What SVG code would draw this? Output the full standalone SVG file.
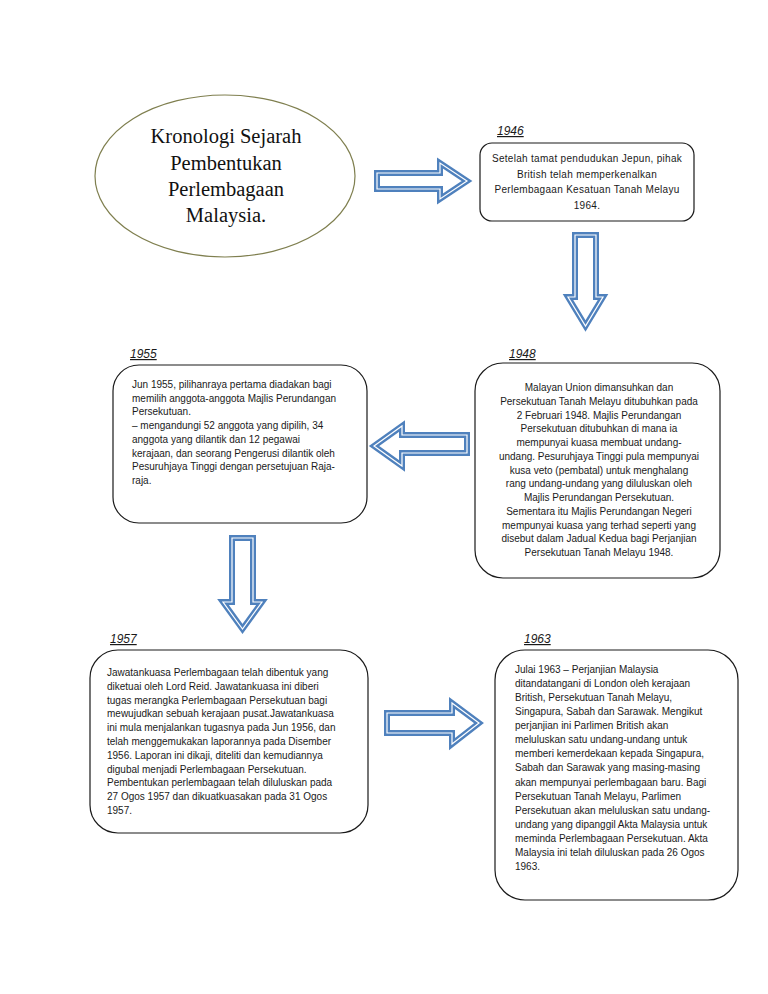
<svg xmlns="http://www.w3.org/2000/svg" width="768" height="994" viewBox="0 0 768 994">
<style>
.box{fill:#fff;stroke:#1a1a1a;stroke-width:1.2}
.t{font-family:"Liberation Sans",Arial,sans-serif;font-size:10px;fill:#1a1a1a}
.c{text-anchor:middle}
.yr{font-family:"Liberation Sans",Arial,sans-serif;font-size:12px;font-style:italic;fill:#1a1a1a;text-decoration:underline}
.title{font-family:"Liberation Serif","Times New Roman",serif;font-size:20.5px;fill:#111;text-anchor:middle}
.aro{fill:#fff;stroke:#4F81BD;stroke-width:6;stroke-linejoin:miter}
.ari{fill:none;stroke:#fff;stroke-width:1.2;stroke-linejoin:miter}
</style>
<rect width="768" height="994" fill="#fff"/>
<g id="title">
<ellipse cx="225" cy="176" rx="130" ry="81" fill="#fff" stroke="#7F7F4F" stroke-width="1.2"/>
<text class="title"><tspan x="226" y="143">Kronologi Sejarah</tspan><tspan x="226" y="170">Pembentukan</tspan><tspan x="226" y="196">Perlembagaan</tspan><tspan x="226" y="222">Malaysia.</tspan></text>
</g>
<g id="n1946">
<text class="yr" x="497" y="135">1946</text>
<rect class="box" x="480" y="143" width="214" height="78" rx="12"/>
<text class="t c" letter-spacing="0.3"><tspan x="587" y="162">Setelah tamat pendudukan Jepun, pihak</tspan><tspan x="587" y="177.5">British telah memperkenalkan</tspan><tspan x="587" y="193">Perlembagaan Kesatuan Tanah Melayu</tspan><tspan x="587" y="208.5">1964.</tspan></text>
</g>
<g id="n1948">
<text class="yr" x="509" y="358">1948</text>
<rect class="box" x="475" y="363" width="245" height="215" rx="28"/>
<text class="t c"><tspan x="599" y="391">Malayan Union dimansuhkan dan</tspan><tspan x="599" y="404.75">Persekutuan Tanah Melayu ditubuhkan pada</tspan><tspan x="599" y="418.5">2 Februari 1948. Majlis Perundangan</tspan><tspan x="599" y="432.25">Persekutuan ditubuhkan di mana ia</tspan><tspan x="599" y="446">mempunyai kuasa membuat undang-</tspan><tspan x="599" y="459.75">undang. Pesuruhjaya Tinggi pula mempunyai</tspan><tspan x="599" y="473.5">kusa veto (pembatal) untuk menghalang</tspan><tspan x="599" y="487.25">rang undang-undang yang diluluskan oleh</tspan><tspan x="599" y="501">Majlis Perundangan Persekutuan.</tspan><tspan x="599" y="514.75">Sementara itu Majlis Perundangan Negeri</tspan><tspan x="599" y="528.5">mempunyai kuasa yang terhad seperti yang</tspan><tspan x="599" y="542.25">disebut dalam Jadual Kedua bagi Perjanjian</tspan><tspan x="599" y="556">Persekutuan Tanah Melayu 1948.</tspan></text>
</g>
<g id="n1955">
<text class="yr" x="130" y="358">1955</text>
<rect class="box" x="113" y="365" width="254" height="158" rx="26"/>
<text class="t"><tspan x="132" y="388">Jun 1955, pilihanraya pertama diadakan bagi</tspan><tspan x="132" y="401.7">memilih anggota-anggota Majlis Perundangan</tspan><tspan x="132" y="415.4">Persekutuan.</tspan><tspan x="132" y="429.1">– mengandungi 52 anggota yang dipilih, 34</tspan><tspan x="132" y="442.8">anggota yang dilantik dan 12 pegawai</tspan><tspan x="132" y="456.5">kerajaan, dan seorang Pengerusi dilantik oleh</tspan><tspan x="132" y="470.2">Pesuruhjaya Tinggi dengan persetujuan Raja-</tspan><tspan x="132" y="483.9">raja.</tspan></text>
</g>
<g id="n1957">
<text class="yr" x="110" y="643">1957</text>
<rect class="box" x="90" y="650" width="278" height="183" rx="28"/>
<text class="t"><tspan x="107" y="676">Jawatankuasa Perlembagaan telah dibentuk yang</tspan><tspan x="107" y="689.8">diketuai oleh Lord Reid. Jawatankuasa ini diberi</tspan><tspan x="107" y="703.6">tugas merangka Perlembagaan Persekutuan bagi</tspan><tspan x="107" y="717.4">mewujudkan sebuah kerajaan pusat.Jawatankuasa</tspan><tspan x="107" y="731.2">ini mula menjalankan tugasnya pada Jun 1956, dan</tspan><tspan x="107" y="745">telah menggemukakan laporannya pada Disember</tspan><tspan x="107" y="758.8">1956. Laporan ini dikaji, diteliti dan kemudiannya</tspan><tspan x="107" y="772.6">digubal menjadi Perlembagaan Persekutuan.</tspan><tspan x="107" y="786.4">Pembentukan perlembagaan telah diluluskan pada</tspan><tspan x="107" y="800.2">27 Ogos 1957 dan dikuatkuasakan pada 31 Ogos</tspan><tspan x="107" y="814">1957.</tspan></text>
</g>
<g id="n1963">
<text class="yr" x="524" y="643">1963</text>
<rect class="box" x="495" y="650" width="243" height="250" rx="30"/>
<text class="t"><tspan x="515" y="673">Julai 1963 – Perjanjian Malaysia</tspan><tspan x="515" y="687.07">ditandatangani di London oleh kerajaan</tspan><tspan x="515" y="701.14">British, Persekutuan Tanah Melayu,</tspan><tspan x="515" y="715.21">Singapura, Sabah dan Sarawak. Mengikut</tspan><tspan x="515" y="729.28">perjanjian ini Parlimen British akan</tspan><tspan x="515" y="743.35">meluluskan satu undang-undang untuk</tspan><tspan x="515" y="757.42">memberi kemerdekaan kepada Singapura,</tspan><tspan x="515" y="771.49">Sabah dan Sarawak yang masing-masing</tspan><tspan x="515" y="785.56">akan mempunyai perlembagaan baru. Bagi</tspan><tspan x="515" y="799.63">Persekutuan Tanah Melayu, Parlimen</tspan><tspan x="515" y="813.7">Persekutuan akan meluluskan satu undang-</tspan><tspan x="515" y="827.77">undang yang dipanggil Akta Malaysia untuk</tspan><tspan x="515" y="841.84">meminda Perlembagaan Persekutuan. Akta</tspan><tspan x="515" y="855.91">Malaysia ini telah diluluskan pada 26 Ogos</tspan><tspan x="515" y="870">1963.</tspan></text>
</g>
<g id="connectors">
<path id="a1" class="aro" d="M377,173 H440 V163 L467,181 L440,199 V189 H377 Z"/>
<path class="ari" d="M377,173 H440 V163 L467,181 L440,199 V189 H377 Z"/>
<path id="a2" class="aro" d="M575,235 H596 V297 H603 L585.5,326 L568,297 H575 Z"/>
<path class="ari" d="M575,235 H596 V297 H603 L585.5,326 L568,297 H575 Z"/>
<path id="a3" class="aro" d="M467,435 H402 V426 L374,446 L402,466 V453 H467 Z"/>
<path class="ari" d="M467,435 H402 V426 L374,446 L402,466 V453 H467 Z"/>
<path id="a4" class="aro" d="M232,538 H253 V602 H262 L242.5,629 L223,602 H232 Z"/>
<path class="ari" d="M232,538 H253 V602 H262 L242.5,629 L223,602 H232 Z"/>
<path id="a5" class="aro" d="M387,713 H452 V703 L479,723 L452,744 V733 H387 Z"/>
<path class="ari" d="M387,713 H452 V703 L479,723 L452,744 V733 H387 Z"/>
</g>
</svg>
